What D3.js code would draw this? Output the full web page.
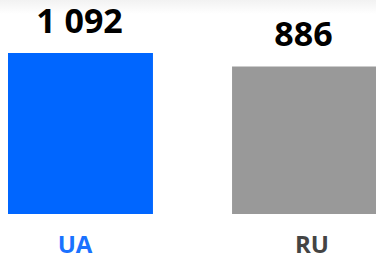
<!DOCTYPE html>
<html>
<head>
<meta charset="utf-8">
<script src="https://cdn.jsdelivr.net/npm/d3@7"></script>
<style>
  body { margin: 0; background: #fff; }
  svg { display: block; font-family: "Open Sans", sans-serif; }
</style>
</head>
<body>
<div id="chart"></div>
<script>
const categories = ["UA", "RU"];
const values = [1092, 886];
const valueLabels = ["1 092", "886"];
const barColors = ["#0066ff", "#999999"];
const labelColors = ["#1a72ff", "#444444"];

const width = 376;
const height = 257;

const svg = d3.select("#chart")
  .append("svg")
  .attr("width", width)
  .attr("height", height);

// faint shadow at the top
const grad = svg.append("defs").append("linearGradient")
  .attr("id", "topfade")
  .attr("x1", 0).attr("x2", 0).attr("y1", 0).attr("y2", 1);
grad.append("stop").attr("offset", "0%").attr("stop-color", "#f2f2f2");
grad.append("stop").attr("offset", "100%").attr("stop-color", "#ffffff");
svg.append("rect")
  .attr("width", width)
  .attr("height", 14)
  .attr("fill", "url(#topfade)");

// Scales
const x = d3.scaleBand()
  .domain(categories)
  .range([8, 377])
  .paddingInner(0.353)
  .paddingOuter(0);

// axis labels sit slightly apart from the bar centres
const xLabel = d3.scalePoint()
  .domain(categories)
  .range([75, 312]);

const y = d3.scaleLinear()
  .domain([-1365, 1092])
  .range([214, 53]);

// Bars
svg.selectAll(".bar")
  .data(values)
  .enter()
  .append("rect")
  .attr("class", "bar")
  .attr("x", (d, i) => x(categories[i]))
  .attr("width", x.bandwidth())
  .attr("y", d => y(d))
  .attr("height", d => y.range()[0] - y(d))
  .attr("fill", (d, i) => barColors[i]);

// Value labels
svg.selectAll(".value")
  .data(values)
  .enter()
  .append("text")
  .attr("class", "value")
  .attr("x", (d, i) => x(categories[i]) + x.bandwidth() / 2 - 1)
  .attr("y", d => y(d) - 20)
  .attr("text-anchor", "middle")
  .style("font-size", "34px")
  .style("font-weight", "700")
  .style("fill", "#000")
  .text((d, i) => valueLabels[i]);

// Category labels
svg.selectAll(".cat")
  .data(categories)
  .enter()
  .append("text")
  .attr("class", "cat")
  .attr("x", d => xLabel(d))
  .attr("y", 253)
  .attr("text-anchor", "middle")
  .style("font-size", "24px")
  .style("font-weight", "700")
  .style("fill", (d, i) => labelColors[i])
  .text(d => d);
</script>
</body>
</html>
